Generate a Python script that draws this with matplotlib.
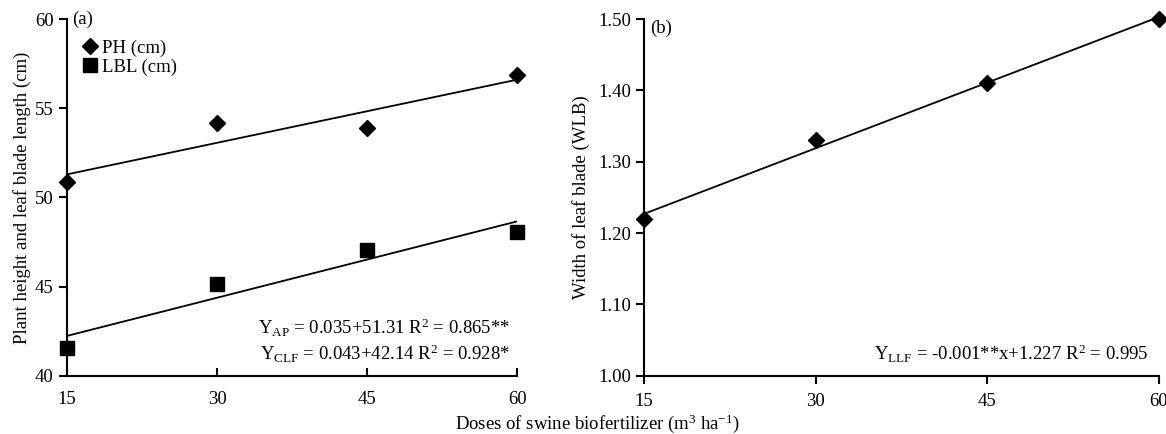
import numpy as np
import matplotlib
matplotlib.use("Agg")
import matplotlib.pyplot as plt

plt.rcParams['font.family'] = ['Liberation Serif', 'DejaVu Serif']
plt.rcParams['mathtext.fontset'] = 'custom'
plt.rcParams['mathtext.rm'] = 'Liberation Serif'
plt.rcParams['mathtext.it'] = 'Liberation Serif:italic'

doses = [15, 30, 45, 60]
ph = [50.85, 54.2, 53.9, 56.85]
lbl = [41.55, 45.15, 47.05, 48.05]
wlb = [1.22, 1.33, 1.41, 1.50]

left_yticks = [40, 45, 50, 55, 60]
right_yticks = [1.00, 1.10, 1.20, 1.30, 1.40, 1.50]

fig = plt.figure(figsize=(11.66, 4.34), dpi=100)
ax1 = fig.add_axes([0.0575, 0.134, 0.386, 0.822])
ax2 = fig.add_axes([0.5523, 0.134, 0.4417, 0.822])

FS = 13.5

def fitline(ax, x, y):
    x = np.array(x, float)
    c = np.polyfit(x, y, 1)
    xs = np.array([15, 60])
    ax.plot(xs, np.polyval(c, xs), color='black', lw=1.3, zorder=2)

for ax in (ax1, ax2):
    for s in ('top', 'right'):
        ax.spines[s].set_visible(False)
    for s in ('left', 'bottom'):
        ax.spines[s].set_linewidth(1.5)
    ax.set_xlim(15, 60)
    ax.set_xticks(doses)
    ax.tick_params(labelsize=FS, width=1.5, length=6)

# Left panel
fitline(ax1, doses, ph)
fitline(ax1, doses, lbl)
ax1.plot(doses, ph, linestyle='none', marker='D', ms=8, color='black', clip_on=False, zorder=3, label='PH (cm)')
ax1.plot(doses, lbl, linestyle='none', marker='s', ms=10, color='black', clip_on=False, zorder=3, label='LBL (cm)')
ax1.set_ylim(40, 60)
ax1.set_yticks(left_yticks)
ax1.set_yticklabels([str(v) for v in left_yticks])
ax1.tick_params(axis='x', direction='in', pad=11)
ax1.tick_params(axis='y', direction='out')
ax1.set_ylabel('Plant height and leaf blade length (cm)', fontsize=FS, labelpad=3)
ax1.text(0.012, 1.0, '(a)', transform=ax1.transAxes, fontsize=FS, va='center', ha='left')
leg = ax1.legend(loc='upper left', bbox_to_anchor=(0.0, 0.975), frameon=False, fontsize=FS,
                 handletextpad=0.05, handlelength=1.2, labelspacing=0.1, borderaxespad=0.2)
ax1.text(0.985, 0.135, r'Y$_{\mathrm{AP}}$ = 0.035+51.31 R$^{2}$ = 0.865**', transform=ax1.transAxes,
         fontsize=FS, ha='right', va='center')
ax1.text(0.985, 0.062, r'Y$_{\mathrm{CLF}}$ = 0.043+42.14 R$^{2}$ = 0.928*', transform=ax1.transAxes,
         fontsize=FS, ha='right', va='center')

# Right panel
fitline(ax2, doses, wlb)
ax2.plot(doses, wlb, linestyle='none', marker='D', ms=8, color='black', clip_on=False, zorder=3)
ax2.set_ylim(1.0, 1.5)
ax2.set_yticks(right_yticks)
ax2.set_yticklabels(['%.2f' % v for v in right_yticks])
ax2.tick_params(axis='both', direction='out')
ax2.tick_params(axis='x', pad=6)
ax2.set_ylabel('Width of leaf blade (WLB)', fontsize=FS, labelpad=6)
ax2.text(0.012, 0.975, '(b)', transform=ax2.transAxes, fontsize=FS, va='center', ha='left')
ax2.text(0.98, 0.062, r'Y$_{\mathrm{LLF}}$ = -0.001**x+1.227 R$^{2}$ = 0.995', transform=ax2.transAxes,
         fontsize=FS, ha='right', va='center')

fig.text(0.512, 0.024, r'Doses of swine biofertilizer (m$^{3}$ ha$^{-1}$)', fontsize=FS, ha='center', va='center')

fig.savefig('out.png', dpi=100)
